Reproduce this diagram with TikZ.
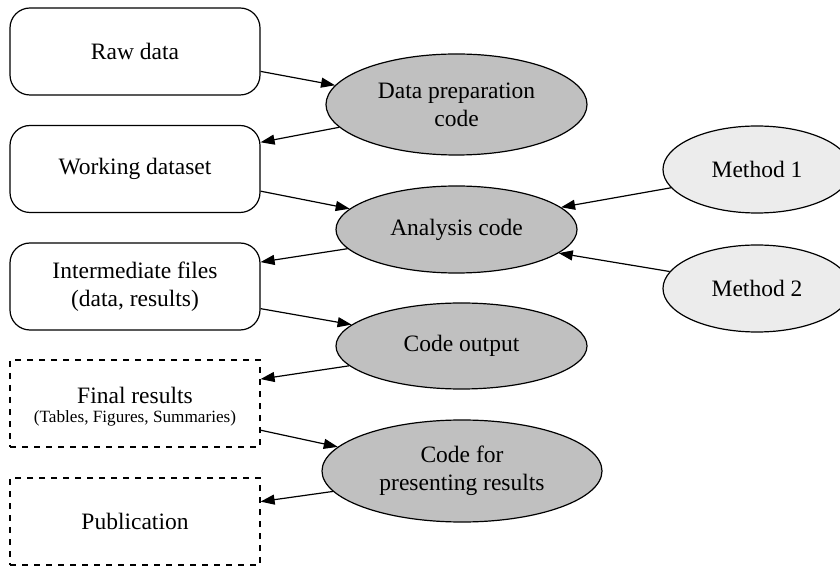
\documentclass[tikz,border=0pt]{standalone}
\usepackage{fontspec}
\setmainfont{Liberation Serif}
\usepackage{tikz}
\usetikzlibrary{shapes.geometric}
\usetikzlibrary{arrows.meta}
\definecolor{procgray}{RGB}{192,192,192}
\definecolor{methgray}{RGB}{236,236,236}
\tikzset{filebox/.style = {shape=rectangle,draw,rounded corners=10pt,minimum width=125pt,minimum height=43.5pt,align=center,inner sep=0pt,line width=0.6pt}}
\tikzset{outbox/.style = {shape=rectangle,draw,dashed,minimum width=125pt,minimum height=43.5pt,align=center,inner sep=0pt,line width=0.6pt}}
\tikzset{proc/.style = {shape=ellipse,draw,fill=procgray,align=center,inner sep=0pt,line width=0.6pt}}
\tikzset{method/.style = {shape=ellipse,draw,fill=methgray,align=center,inner sep=0pt,line width=0.6pt}}
\tikzset{edge/.style = {-{Triangle[length=7pt,width=5pt]},line width=0.6pt}}

\begin{document}
\begin{tikzpicture}[x=0.5pt,y=-0.5pt,font=\fontsize{11.75}{14}\selectfont]
            \useasboundingbox (0,0) rectangle (840,566);

            % Vertices
            \node[filebox] (raw) at (135,51.5) {Raw data};
            \node[filebox] (work) at (135,169) {Working dataset};
            \node[filebox] (inter) at (135,286.5) {Intermediate files\\(data, results)};
            \node[outbox,text height=20.5pt] (final) at (135,403.5) {Final results\\[-4.5pt]{\fontsize{8.6}{9}\selectfont (Tables, Figures, Summaries)}};
            \node[outbox] (pub) at (135,521.5) {Publication};

            \node[proc,minimum width=130.5pt,minimum height=50.5pt] (prep) at (456.5,104.5) {Data preparation\\code};
            \node[proc,minimum width=120.5pt,minimum height=43.5pt] (analysis) at (456.5,229.5) {Analysis code};
            \node[proc,minimum width=125.5pt,minimum height=43pt] (output) at (461.5,346) {Code output};
            \node[proc,minimum width=140pt,minimum height=51pt] (present) at (462,471) {Code for\\presenting results};

            \node[method,minimum width=94pt,minimum height=43.5pt] (m1) at (757,169.5) {Method 1};
            \node[method,minimum width=94pt,minimum height=43.5pt] (m2) at (757,288.5) {Method 2};

            % Edges
            \draw[edge] (raw.-9) to (prep.171);
            \draw[edge] (prep.-169) to (work.12);
            \draw[edge] (work.-10) to (analysis.169);
            \draw[edge] (analysis.190) to (inter.11);
            \draw[edge] (inter.-10) to (output.169);
            \draw[edge] (output.190) to (final.11);
            \draw[edge] (final.-12) to (present.169);
            \draw[edge] (present.189) to (pub.9);

            \draw[edge] (m1.-168) to (analysis.12);
            \draw[edge] (m2.169) to (analysis.-13);
        \end{tikzpicture}
\end{document}
